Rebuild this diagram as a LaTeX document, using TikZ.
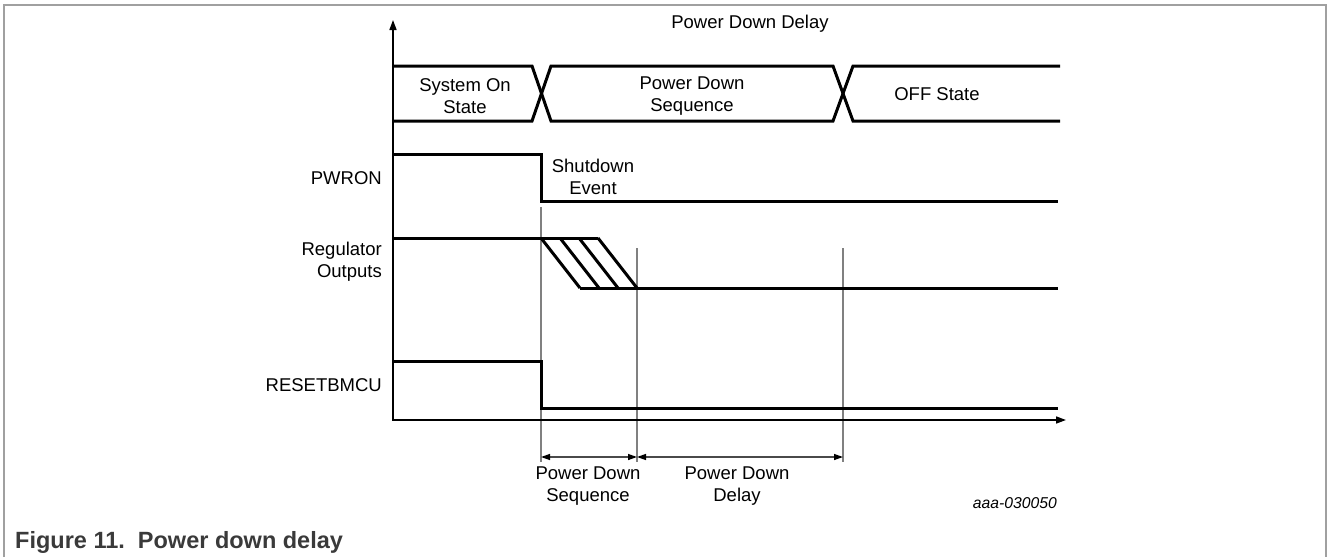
\documentclass[tikz,border=0pt]{standalone}
\usepackage{fontspec}
\setmainfont{Liberation Sans}
\usetikzlibrary{arrows.meta}
\definecolor{framegray}{HTML}{A0A0A0}
\definecolor{markgray}{HTML}{808080}
\definecolor{dimgray}{HTML}{4A4A4A}
\definecolor{capgray}{HTML}{3A3A3A}

\begin{document}
\begin{tikzpicture}[x=1pt, y=-1pt,
  >={Triangle[length=8pt, width=5.5pt]},
  sig/.style={line width=3pt, black},
  axis/.style={<->, line width=1.6pt, black,
    >={Triangle[length=10pt, width=7pt]}},
  marker/.style={line width=1.3pt, markgray},
  dim/.style={<->, line width=1.3pt, dimgray,
    >={Triangle[length=9pt, width=6pt, color=black]}},
  lbl/.style={font=\fontsize{18.5}{22}\selectfont, align=center, inner sep=0pt},
  sglbl/.style={lbl, anchor=east, align=right},
]

\useasboundingbox (0,0) rectangle (1328,557);

% Frame
\draw[framegray, line width=1.5pt] (4,557) -- (4,5) -- (1326,5) -- (1326,557);

% ---- Time markers ----
\coordinate (m1) at (541,207);
\coordinate (m1b) at (541,462);
\coordinate (m2) at (637,248);
\coordinate (m2b) at (637,462);
\coordinate (m3) at (843,248);
\coordinate (m3b) at (843,462);
\draw[marker] (m1) -- (m1b);
\draw[marker] (m2) -- (m2b);
\draw[marker] (m3) -- (m3b);

% ---- Axes ----
\coordinate (org)  at (393,420);
\coordinate (ytop) at (393,20);
\coordinate (xend) at (1066,420);
\draw[axis] (ytop) -- (org) -- (xend);

% ---- State bus ----
\draw[sig] (393,66) -- (532,66) -- (551,121) -- (833,121) -- (853,66) -- (1060,66);
\draw[sig] (393,121) -- (532,121) -- (551,66) -- (833,66) -- (853,121) -- (1060,121);

\node[lbl] (tdelay) at (750,24) {Power Down Delay};
\node[lbl] (st1) at (465,96) {System On\\State};
\node[lbl] (st2) at (692,96) {Power Down\\Sequence};
\node[lbl] (st3) at (937,94) {OFF State};

% ---- Signals ----
% PWRON
\draw[sig] (393,154) -- (541,154) -- (541,201) -- (1058,201);
\node[sglbl] (pwron) at (382,178) {PWRON};
\node[lbl] (sdevt) at (593,177) {Shutdown\\Event};

% Regulator outputs
\draw[sig] (393,238) -- (598,238);
\draw[sig] (541,238) -- (580,288);
\draw[sig] (560,238) -- (599,288);
\draw[sig] (579,238) -- (618,288);
\draw[sig] (598,238) -- (637,288);
\draw[sig] (580,288) -- (1058,288);
\node[sglbl] (regout) at (382,262) {Regulator\\Outputs};

% RESETBMCU
\draw[sig] (393,361) -- (541,361) -- (541,408) -- (1058,408);
\node[sglbl] (rstb) at (382,385) {RESETBMCU};

% ---- Durations ----
\coordinate (d1) at (541,457);
\coordinate (d2) at (637,457);
\coordinate (d3) at (843,457);
\draw[dim] (d1) -- (d2);
\draw[dim] (d2) -- (d3);
\node[lbl] (seqlbl) at (588,486) {Power Down\\Sequence};
\node[lbl] (dlylbl) at (737,486) {Power Down\\Delay};

% Figure id
\node[font=\fontsize{15.7}{18}\selectfont\itshape, inner sep=0pt, anchor=east]
  (figid) at (1057,503) {aaa-030050};

% Caption
\node[font=\fontsize{23.5}{28}\selectfont\bfseries, text=capgray, inner sep=0pt,
  anchor=base west] (caption) at (15,548) {Figure 11.\ \ Power down delay};

\end{tikzpicture}
\end{document}
